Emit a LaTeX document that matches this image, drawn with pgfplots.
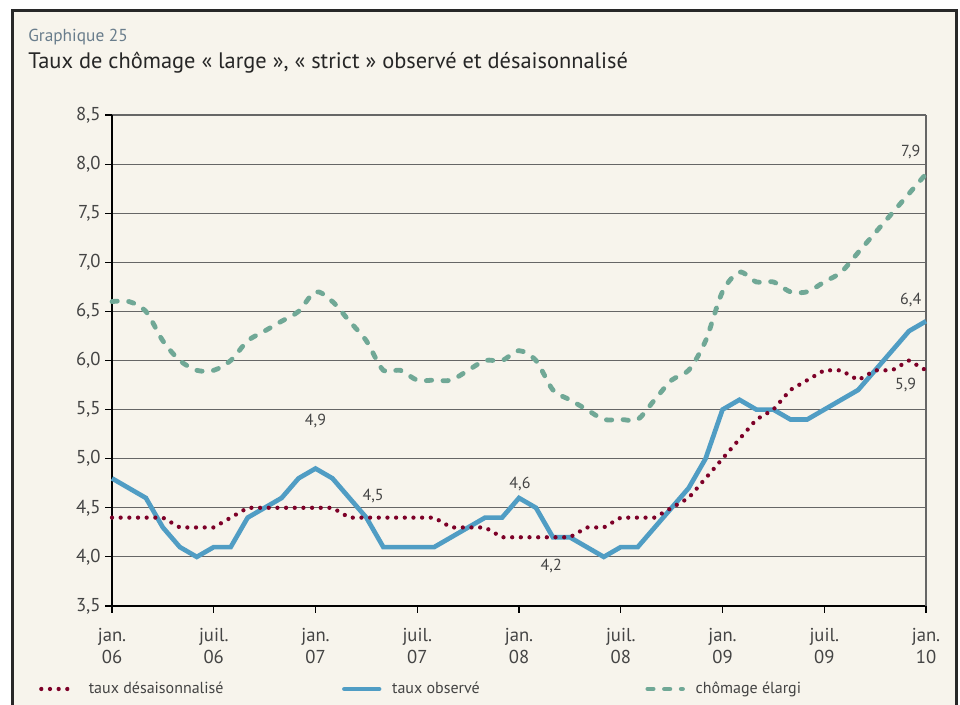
\documentclass[border=0pt]{standalone}
\usepackage{fontspec}
\setmainfont{PT Sans}
\usepackage{pgfplots}
\usepackage{pgfplotstable}
\pgfplotsset{compat=1.18}
\definecolor{cream}{RGB}{247,244,236}
\definecolor{framec}{RGB}{40,40,40}
\definecolor{obs}{RGB}{80,157,196}
\definecolor{desa}{RGB}{125,0,40}
\definecolor{elar}{RGB}{112,168,150}
\definecolor{txt}{RGB}{68,68,68}
\definecolor{gtitle}{RGB}{105,125,140}

\pgfplotstableread{
m obs desa elar
0 4.8 4.4 6.6
1 4.7 4.4 6.6
2 4.6 4.4 6.5
3 4.3 4.4 6.2
4 4.1 4.3 6.0
5 4.0 4.3 5.9
6 4.1 4.3 5.9
7 4.1 4.4 6.0
8 4.4 4.5 6.2
9 4.5 4.5 6.3
10 4.6 4.5 6.4
11 4.8 4.5 6.5
12 4.9 4.5 6.7
13 4.8 4.5 6.6
14 4.6 4.4 6.4
15 4.4 4.4 6.2
16 4.1 4.4 5.9
17 4.1 4.4 5.9
18 4.1 4.4 5.8
19 4.1 4.4 5.8
20 4.2 4.3 5.8
21 4.3 4.3 5.9
22 4.4 4.3 6.0
23 4.4 4.2 6.0
24 4.6 4.2 6.1
25 4.5 4.2 6.0
26 4.2 4.2 5.7
27 4.2 4.2 5.6
28 4.1 4.3 5.5
29 4.0 4.3 5.4
30 4.1 4.4 5.4
31 4.1 4.4 5.4
32 4.3 4.4 5.6
33 4.5 4.5 5.8
34 4.7 4.6 5.9
35 5.0 4.8 6.2
36 5.5 5.0 6.7
37 5.6 5.2 6.9
38 5.5 5.4 6.8
39 5.5 5.5 6.8
40 5.4 5.7 6.7
41 5.4 5.8 6.7
42 5.5 5.9 6.8
43 5.6 5.9 6.9
44 5.7 5.8 7.1
45 5.9 5.9 7.3
46 6.1 5.9 7.5
47 6.3 6.0 7.7
48 6.4 5.9 7.9
}\datatable

\tikzset{
  desastyle/.style={desa, line width=3.2pt, line cap=round, dash pattern=on 0pt off 6.5pt},
  obsstyle/.style={obs, line width=3.5pt},
  elarstyle/.style={elar, line width=3.6pt, line cap=round, dash pattern=on 4pt off 8.5pt},
}

\begin{document}
\begin{tikzpicture}
\useasboundingbox (0,0) rectangle (720pt,528pt);
\fill[white] (0,0) rectangle (720pt,528pt);
\fill[cream] (9.4pt,-5pt) rectangle (717.4pt,520.1pt);
\draw[framec, line width=2.2pt] (9.4pt,-5pt) -- (9.4pt,520.1pt) -- (717.4pt,520.1pt) -- (717.4pt,-5pt);
\node[anchor=base west, inner sep=0pt, text=gtitle, font=\fontsize{13}{15}\selectfont] at (21pt,497pt) {Graphique 25};
\node[anchor=base west, inner sep=0pt, text=black!85, font=\fontsize{16.8}{19}\selectfont] at (21pt,476.5pt) {Taux de chômage « large », « strict » observé et désaisonnalisé};
\begin{axis}[
  at={(84pt,73.5pt)}, anchor=south west,
  scale only axis, width=610.5pt, height=368.25pt,
  xmin=0, xmax=48, ymin=3.5, ymax=8.5,
  clip=false,
  axis x line*=bottom, axis y line*=left,
  axis line style={black, line width=0.9pt, -},
  xtick={0,6,...,48},
  xticklabels={{jan.\\06},{juil.\\06},{jan.\\07},{juil.\\07},{jan.\\08},{juil.\\08},{jan.\\09},{juil.\\09},{jan.\\10}},
  xticklabel style={align=center, font=\fontsize{14}{16.5}\selectfont, text=txt, yshift=-8pt},
  ytick distance=0.5,
  yticklabel style={font=\fontsize{14}{16}\selectfont, text=txt, /pgf/number format/.cd, fixed, fixed zerofill, precision=1, use comma, assume math mode=true},
  tick align=outside, major tick length=5pt,
  tick style={black, line width=0.8pt},
  ymajorgrids, grid style={black!60, line width=0.8pt},
  legend style={at={(-0.0947,-0.169)}, anchor=west, draw=none, fill=none,
    legend columns=3, font=\fontsize{12}{14}\selectfont, text=txt,
    /tikz/every odd column/.append style={column sep=6pt},
    /tikz/every even column/.append style={column sep=0pt}},
  legend image code/.code={\draw[#1] (0pt,0pt) -- (26pt,0pt);},
]
\draw[black!60, line width=0.9pt] (rel axis cs:1,0) -- (rel axis cs:1,1);
\addplot[obsstyle, forget plot] table[x=m, y=obs] {\datatable};
\addplot[elarstyle, smooth, tension=0.5, forget plot] table[x=m, y=elar] {\datatable};
\addplot[desastyle, forget plot] table[x=m, y=desa] {\datatable};
\addlegendimage{desastyle}
\addlegendentry{\makebox[188pt][l]{taux désaisonnalisé}}
\addlegendimage{obsstyle, line cap=round}
\addlegendentry{\makebox[188pt][l]{taux observé}}
\addlegendimage{elarstyle}
\addlegendentry{chômage élargi}
\begin{scope}[font=\fontsize{12}{14}\selectfont, text=txt]
\node at (axis cs:47.1,8.12) {7,9};
\node at (axis cs:47.1,6.62) {6,4};
\node at (axis cs:46.8,5.75) {5,9};
\node at (axis cs:12.0,5.38) {4,9};
\node at (axis cs:15.4,4.62) {4,5};
\node at (axis cs:24.06,4.74) {4,6};
\node at (axis cs:25.9,3.91) {4,2};
\end{scope}
\end{axis}
\end{tikzpicture}
\end{document}
